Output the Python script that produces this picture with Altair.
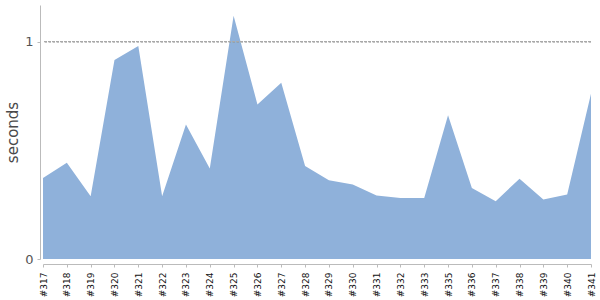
import altair as alt
import pandas as pd

builds = ["#317", "#318", "#319", "#320", "#321", "#322", "#323", "#324", "#325",
          "#326", "#327", "#328", "#329", "#330", "#331", "#332", "#333", "#335",
          "#336", "#337", "#338", "#339", "#340", "#341"]
seconds = [0.372, 0.443, 0.289, 0.915, 0.979, 0.288, 0.618, 0.416, 1.119,
           0.711, 0.810, 0.428, 0.362, 0.343, 0.292, 0.280, 0.280, 0.661,
           0.326, 0.266, 0.369, 0.274, 0.297, 0.760]

df = pd.DataFrame({"build": builds, "seconds": seconds})

base = alt.Chart(df)

area = base.mark_area(color="#8FB1DA", opacity=1, interpolate="linear").encode(
    x=alt.X("build:O", sort=None,
            scale=alt.Scale(type="point", padding=0),
            axis=alt.Axis(title=None, labelAngle=270, labelAlign="right",
                          labelBaseline="middle", labelFontSize=9,
                          labelColor="#111", labelPadding=5, tickSize=3,
                          offset=5, domainColor="#bbb", tickColor="#bbb",
                          labelFont="DejaVu Sans")),
    y=alt.Y("seconds:Q",
            scale=alt.Scale(domain=[0, 1.168], nice=False, zero=True),
            axis=alt.Axis(title="seconds", values=[0, 1], format="d", grid=False,
                          labelFontSize=13, labelColor="#555", labelPadding=4,
                          tickSize=3, offset=3, domainColor="#bbb",
                          tickColor="#bbb", titleFontSize=15,
                          titleFontWeight="normal", titleColor="#4a4a4a",
                          titleX=-28, titleY=127, titleAngle=270,
                          titleAlign="center", titleBaseline="middle",
                          labelFont="DejaVu Sans",
                          titleFont="DejaVu Sans")),
)

rule = base.mark_rule(color="#aaa", strokeDash=[2.5, 1.5], strokeWidth=1).encode(
    y=alt.datum(1)
)

chart = alt.layer(area, rule).properties(
    width=548, height=254,
    autosize=alt.AutoSizeParams(type="none"),
    padding={"left": 43, "top": 5, "right": 9, "bottom": 41},
).configure_view(stroke=None)

chart.save("out.html", embed_options={"renderer": "svg", "actions": False})
